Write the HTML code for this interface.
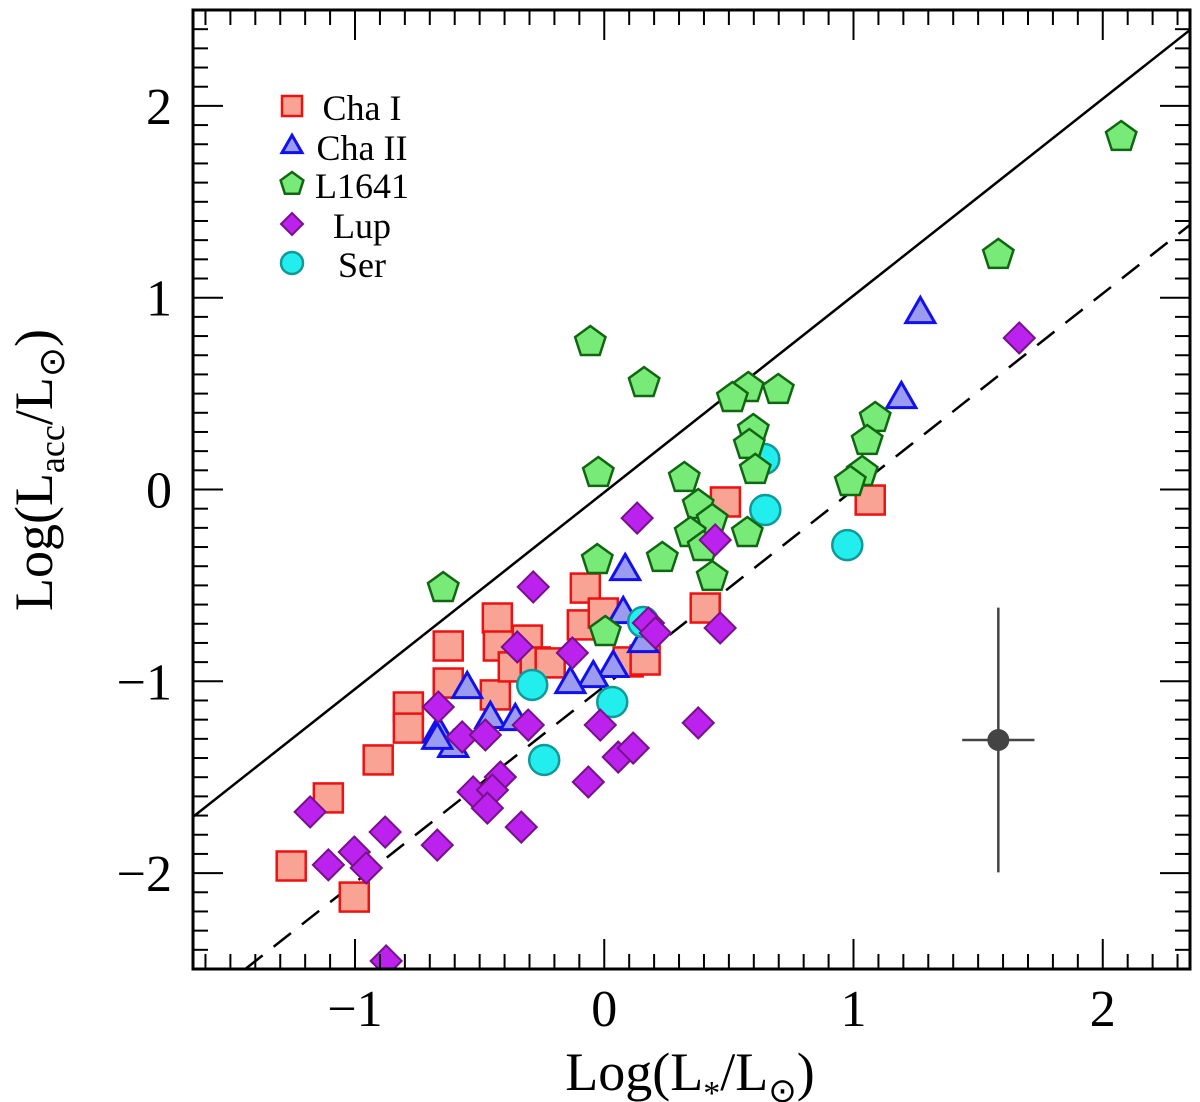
<!DOCTYPE html>
<html><head><meta charset="utf-8"><style>
body{margin:0;background:#fff;}
svg{display:block;font-family:"Liberation Serif",serif;}
</style></head><body>
<svg id="chart" width="1200" height="1102" xmlns="http://www.w3.org/2000/svg"></svg>
<script>
const xTicks=[-1,0,1,2];
const yTicks=[-2,-1,0,1,2];
const xTickLabels=["\u22121","0","1","2"];
const yTickLabels=["\u22122","\u22121","0","1","2"];
const chaIX=[-1.256,-1.003,-1.107,-0.907,-0.786,-0.786,-0.626,-0.626,-0.429,-0.437,-0.425,-0.309,-0.365,-0.277,-0.217,-0.076,-0.088,-0.004,0.096,0.164,0.405,0.486,1.067];
const chaIY=[-1.963,-2.125,-1.608,-1.410,-1.134,-1.244,-0.816,-1.009,-0.670,-1.071,-0.816,-0.785,-0.925,-0.899,-0.904,-0.514,-0.706,-0.644,-0.899,-0.889,-0.618,-0.065,-0.055];
const chaIIX=[1.268,1.192,0.084,0.076,0.156,0.036,-0.044,-0.136,-0.550,-0.457,-0.357,-0.666,-0.606,-0.670];
const chaIIY=[0.920,0.477,-0.420,-0.644,-0.795,-0.925,-0.978,-1.009,-1.035,-1.191,-1.202,-1.264,-1.342,-1.300];
const l1641X=[2.074,1.581,-0.056,0.160,0.578,0.698,0.514,1.087,0.598,1.055,0.582,0.606,1.035,0.987,-0.024,0.321,0.377,0.433,0.345,0.397,0.233,0.574,-0.028,0.433,-0.646,0.004];
const l1641Y=[1.838,1.223,0.769,0.555,0.529,0.519,0.477,0.373,0.310,0.253,0.232,0.102,0.091,0.039,0.086,0.060,-0.081,-0.159,-0.227,-0.300,-0.357,-0.227,-0.368,-0.456,-0.514,-0.743];
const lupX=[1.665,0.132,0.445,-0.285,0.465,0.177,0.205,-0.128,-0.349,-0.666,-0.016,-0.305,0.377,-0.570,-0.477,0.056,0.116,-0.064,-0.417,-0.526,-0.449,-0.469,-0.333,-0.670,-0.879,-1.180,-1.107,-1.003,-0.955,-0.875];
const lupY=[0.790,-0.149,-0.263,-0.508,-0.722,-0.696,-0.748,-0.852,-0.821,-1.134,-1.228,-1.228,-1.217,-1.290,-1.280,-1.395,-1.348,-1.525,-1.499,-1.577,-1.567,-1.661,-1.760,-1.854,-1.786,-1.681,-1.957,-1.890,-1.973,-2.458];
const serX=[0.642,0.646,0.975,0.156,-0.289,0.032,-0.241];
const serY=[0.159,-0.107,-0.290,-0.691,-1.019,-1.108,-1.410];
const errCenter=[1.581,-1.306];
const errSize=[0.145,0.69];
const solidLine=[[-1.65,-1.707],[2.35,2.396]];
const dashedLine=[[-1.44,-2.5],[2.35,1.38]];

const NS="http://www.w3.org/2000/svg";
const svg=document.getElementById('chart');
const L=193,R=1190,T=10,B=969;
const xMin=-1.65,xMax=2.35,yMin=-2.5,yMax=2.5;
const X=v=>L+(v-xMin)/(xMax-xMin)*(R-L);
const Y=v=>B-(v-yMin)/(yMax-yMin)*(B-T);
function mk(tag,attrs,parent){const e=document.createElementNS(NS,tag);for(const k in attrs)e.setAttribute(k,attrs[k]);(parent||svg).appendChild(e);return e;}

const defs=mk('defs',{});const cp=mk('clipPath',{id:'pc'},defs);mk('rect',{x:L,y:T,width:R-L,height:B-T},cp);
const plot=mk('g',{'clip-path':'url(#pc)'});



let ln=mk('line',{x1:X(solidLine[0][0]),y1:Y(solidLine[0][1]),x2:X(solidLine[1][0]),y2:Y(solidLine[1][1]),stroke:'#000','stroke-width':2.5},plot);


ln=mk('line',{x1:X(dashedLine[0][0]),y1:Y(dashedLine[0][1]),x2:X(dashedLine[1][0]),y2:Y(dashedLine[1][1]),stroke:'#000','stroke-width':2.5,'stroke-dasharray':'22,14'},plot);



function square(cx,cy,g,s){return mk('rect',{x:cx-s/2,y:cy-s/2,width:s,height:s,fill:'#f9a395',stroke:'#ee1111','stroke-width':2.5},g);}
function tri(cx,cy,g,s){const h=s*0.87;return mk('polygon',{points:`${cx},${cy-h*0.62} ${cx-s/2},${cy+h*0.38} ${cx+s/2},${cy+h*0.38}`,fill:'#9b9bf0',stroke:'#1111ee','stroke-width':3},g);}
function pent(cx,cy,g,r){let p=[];for(let i=0;i<5;i++){const a=-Math.PI/2+i*2*Math.PI/5;p.push((cx+r*Math.cos(a)).toFixed(1)+','+(cy+r*Math.sin(a)).toFixed(1));}return mk('polygon',{points:p.join(' '),fill:'#77ea77',stroke:'#116611','stroke-width':2.5},g);}
function diam(cx,cy,g,r){return mk('polygon',{points:`${cx},${cy-r} ${cx+r},${cy} ${cx},${cy+r} ${cx-r},${cy}`,fill:'#bb22ee',stroke:'#771188','stroke-width':2},g);}
function circ(cx,cy,g,r){return mk('circle',{cx:cx,cy:cy,r:r,fill:'#22eeee',stroke:'#119999','stroke-width':2.5},g);}

function series(name,xs,ys,fn,size){const g=mk('g',{},plot);
 for(let i=0;i<xs.length;i++){const e=fn(X(xs[i]),Y(ys[i]),g,size);}}
series('cha-i',chaIX,chaIY,square,29);
series('cha-ii',chaIIX,chaIIY,tri,29);
series('ser',serX,serY,circ,15);
series('l1641',l1641X,l1641Y,pent,16);
series('lup',lupX,lupY,diam,15.5);

const eg=mk('g',{});
mk('line',{x1:X(errCenter[0]),x2:X(errCenter[0]),y1:Y(errCenter[1]-errSize[1]),y2:Y(errCenter[1]+errSize[1]),stroke:'#444','stroke-width':2.5},eg);
mk('line',{x1:X(errCenter[0]-errSize[0]),x2:X(errCenter[0]+errSize[0]),y1:Y(errCenter[1]),y2:Y(errCenter[1]),stroke:'#444','stroke-width':2.5},eg);
mk('circle',{cx:X(errCenter[0]),cy:Y(errCenter[1]),r:11,fill:'#444'},eg);

const tg=mk('g',{stroke:'#000','stroke-width':2});
for(let i=-16;i<=23;i++){const v=i/10;if(v<xMin||v>xMax)continue;const len=(i%10===0)?30:15;const px=X(v);
 mk('line',{x1:px,x2:px,y1:B,y2:B-len},tg);mk('line',{x1:px,x2:px,y1:T,y2:T+len},tg);}
for(let i=-25;i<=25;i++){const v=i/10;const len=(i%10===0)?30:15;const py=Y(v);
 mk('line',{x1:L,x2:L+len,y1:py,y2:py},tg);mk('line',{x1:R,x2:R-len,y1:py,y2:py},tg);}
const fr=mk('rect',{x:L,y:T,width:R-L,height:B-T,fill:'none',stroke:'#000','stroke-width':3});


xTicks.forEach((v,i)=>{const t=mk('text',{x:X(v),y:1026,'font-size':52,'text-anchor':'middle'});t.textContent=xTickLabels[i];
 });
yTicks.forEach((v,i)=>{const t=mk('text',{x:172,y:Y(v)+18,'font-size':52,'text-anchor':'end'});t.textContent=yTickLabels[i];
 });

let t=mk('text',{x:690,y:1090,'font-size':54,'text-anchor':'middle'});
t.innerHTML='Log(L<tspan font-size="34" dy="14">*</tspan><tspan dy="-14">/L</tspan><tspan font-size="34" dy="12">\u2299</tspan><tspan dy="-12">)</tspan>';

t=mk('text',{x:0,y:0,'font-size':54,'text-anchor':'middle',transform:'translate(52,470) rotate(-90)'});
t.innerHTML='Log(L<tspan font-size="36" dy="12">acc</tspan><tspan dy="-12">/L</tspan><tspan font-size="36" dy="12">\u2299</tspan><tspan dy="-12">)</tspan>';


const lg=mk('g',{});
const names=['Cha I','Cha II','L1641','Lup','Ser'];const fns=[square,tri,pent,diam,circ];const sz=[20,20,12,11,11];const ys=[106,146,184,224,263];
names.forEach((n,i)=>{const e=mk('g',{},lg);
 fns[i](292,ys[i],e,sz[i]);const tx=mk('text',{x:362,y:ys[i]+14,'font-size':36,'text-anchor':'middle'},e);tx.textContent=n;});
</script>
</body></html>
